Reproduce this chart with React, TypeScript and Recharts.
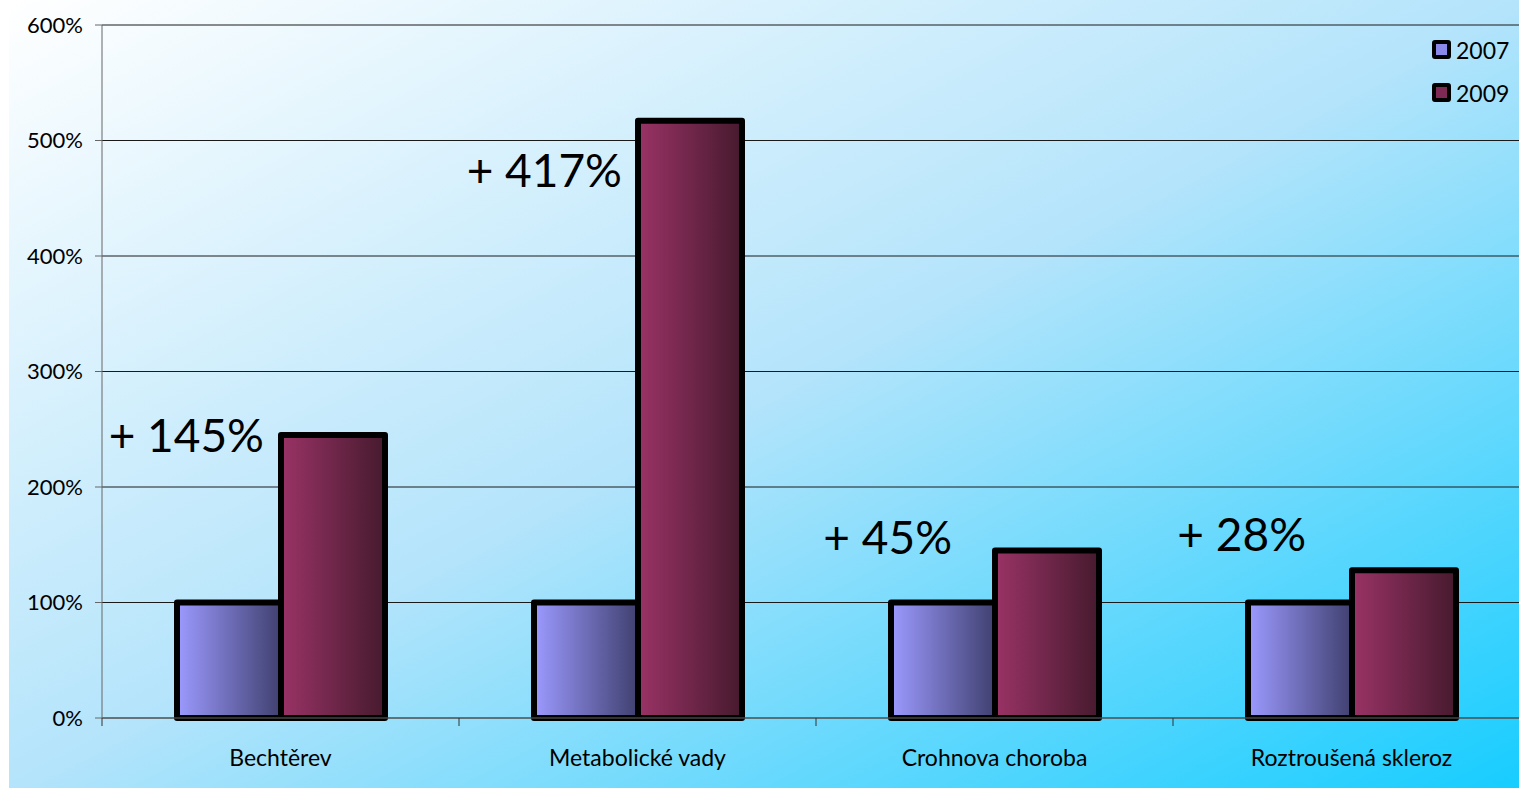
import React from "react";
import {
  BarChart,
  Bar,
  XAxis,
  YAxis,
  CartesianGrid,
  Legend,
  LabelList,
} from "recharts";

const categories = [
  "Bechtěrev",
  "Metabolické vady",
  "Crohnova choroba",
  "Roztroušená skleroz",
];
const values2007 = [100, 100, 100, 100];
const values2009 = [245, 517, 145, 128];
const yTicks = [0, 100, 200, 300, 400, 500, 600];

// where each "+ x%" note sits, relative to the 2009 bar's top-left corner
const noteOffsets = [
  [-17, 17],
  [-16, 66],
  [-43, 3],
  [-46, -19],
];

const data = categories.map((name, i) => ({
  name,
  y2007: values2007[i],
  y2009: values2009[i],
}));

const FONT = "Lato, 'Noto Sans', sans-serif";
const CHART_W = 1530;
const Y_AXIS_W = 102;
const BAND = (CHART_W - Y_AXIS_W) / categories.length;

const renderNote = (props: any) => {
  const { x, y, index } = props;
  const [dx, dy] = noteOffsets[index];
  const gain = values2009[index] - values2007[index];
  return (
    <text
      x={x + dx}
      y={y + dy}
      textAnchor="end"
      fontSize={46}
      fontFamily={FONT}
      fill="#000"
    >
      {`+ ${gain}%`}
    </text>
  );
};

// category label plus the small tick marks at the group boundaries
const CategoryTick = (props: any) => {
  const { x, y, payload } = props;
  const left = x - BAND / 2;
  return (
    <g>
      <line x1={left} y1={y} x2={left} y2={y + 8} stroke="#333" />
      <text
        x={x}
        y={y + 48}
        textAnchor="middle"
        fontSize={23}
        fontFamily={FONT}
        fill="#000"
      >
        {payload.value}
      </text>
    </g>
  );
};

const legendItems = [
  { label: "2007", color: "#8a88e8" },
  { label: "2009", color: "#7e2a55" },
];

const renderLegend = () => (
  <div style={{ fontFamily: FONT, fontSize: 23, color: "#000" }}>
    {legendItems.map((it) => (
      <div
        key={it.label}
        style={{ display: "flex", alignItems: "center", height: 43 }}
      >
        <span
          style={{
            width: 11,
            height: 11,
            border: "4px solid #000",
            borderRadius: 3,
            background: it.color,
            marginRight: 5,
          }}
        />
        <span>{it.label}</span>
      </div>
    ))}
  </div>
);

const App: React.FC = () => {
  return (
    <div
      style={{
        position: "fixed",
        left: 0,
        top: 0,
        width: 1519,
        height: 788,
        overflow: "hidden",
        background: "#fff",
      }}
    >
      <div
        style={{
          position: "absolute",
          left: 9,
          top: 0,
          width: 1510,
          height: 788,
          background:
            "linear-gradient(to bottom right, #ffffff 0%, #b4e4fb 50%, #17cdff 100%)",
        }}
      />
      <div style={{ position: "absolute", left: 0, top: 0 }}>
        <BarChart
          width={CHART_W}
          height={788}
          data={data}
          margin={{ top: 25, right: 0, bottom: 0, left: 0 }}
          barGap={0}
          barCategoryGap={75}
        >
          <defs>
            <linearGradient id="g2007" x1="0" y1="0" x2="1" y2="0">
              <stop offset="0%" stopColor="#9c9aff" />
              <stop offset="100%" stopColor="#404070" />
            </linearGradient>
            <linearGradient id="g2009" x1="0" y1="0" x2="1" y2="0">
              <stop offset="0%" stopColor="#9a3366" />
              <stop offset="100%" stopColor="#461a2e" />
            </linearGradient>
          </defs>
          <CartesianGrid vertical={false} stroke="#1a1a1a" strokeWidth={1} />
          <XAxis
            dataKey="name"
            height={70}
            stroke="#666"
            tickLine={false}
            tickSize={0}
            tickMargin={0}
            interval={0}
            tick={<CategoryTick />}
          />
          <YAxis
            width={Y_AXIS_W}
            domain={[0, 600]}
            ticks={yTicks}
            stroke="#666"
            tickSize={7}
            tickFormatter={(v) => `${v}%`}
            tick={{ fill: "#000", fontSize: 22, fontFamily: FONT, dx: -10 }}
          />
          <Legend
            verticalAlign="middle"
            align="center"
            layout="vertical"
            content={renderLegend}
            wrapperStyle={{
              top: 28,
              left: 1432,
              right: "auto",
              bottom: "auto",
              width: 90,
            }}
          />
          <Bar
            dataKey="y2007"
            name="2007"
            fill="url(#g2007)"
            stroke="#000"
            strokeWidth={6}
            strokeLinejoin="round"
            isAnimationActive={false}
          />
          <Bar
            dataKey="y2009"
            name="2009"
            fill="url(#g2009)"
            stroke="#000"
            strokeWidth={6}
            strokeLinejoin="round"
            isAnimationActive={false}
          >
            <LabelList dataKey="y2009" content={renderNote} />
          </Bar>
        </BarChart>
      </div>
    </div>
  );
};

export default App;
